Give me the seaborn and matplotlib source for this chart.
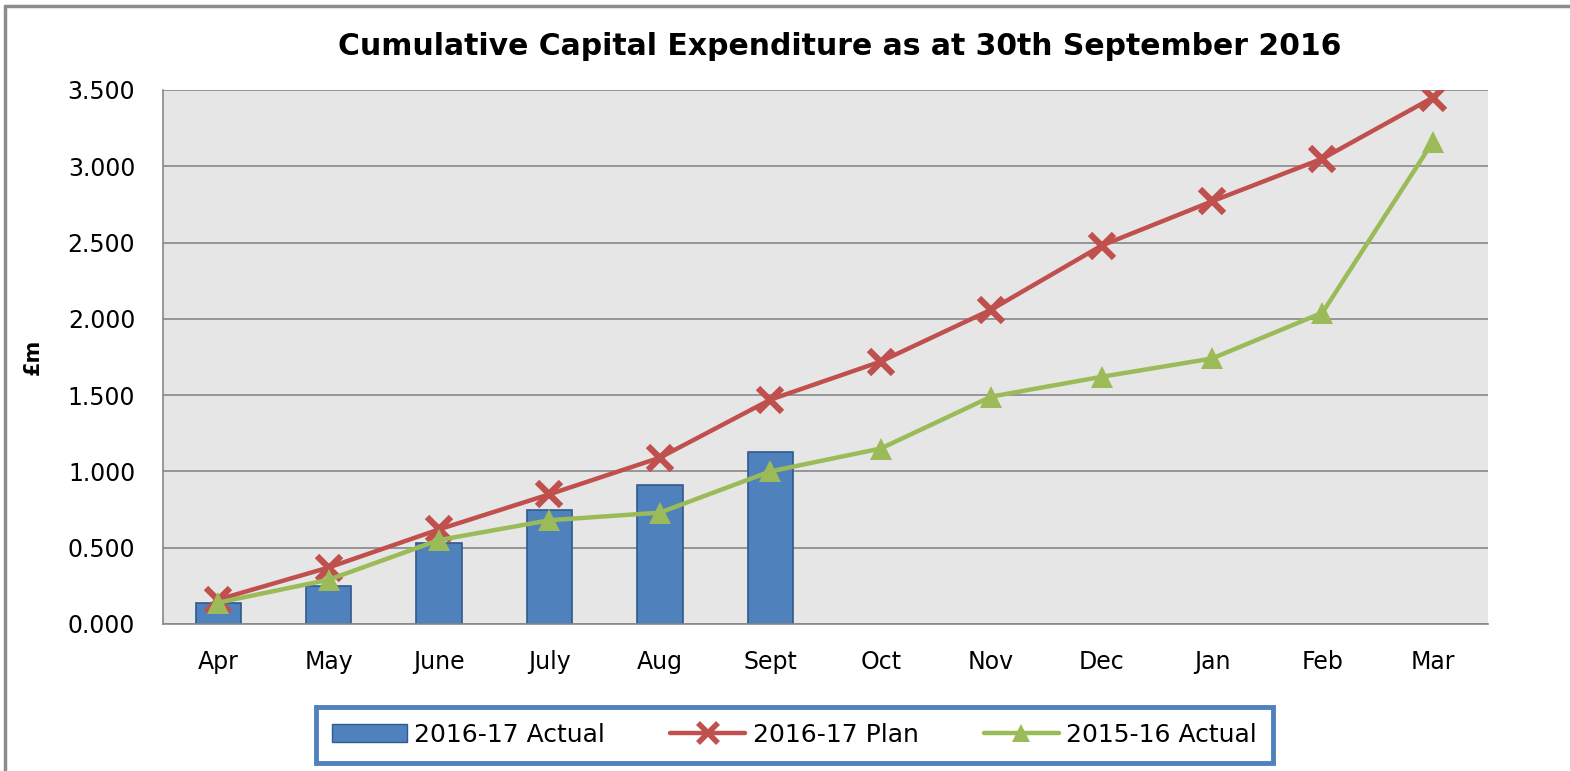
import numpy as np
import pandas as pd
import matplotlib
matplotlib.use("Agg")
import matplotlib.pyplot as plt
import seaborn as sns
from matplotlib.lines import Line2D
from matplotlib.patches import Patch

# data (£m, cumulative)
months = ["Apr", "May", "June", "July", "Aug", "Sept",
          "Oct", "Nov", "Dec", "Jan", "Feb", "Mar"]
actual_1617 = [0.14, 0.25, 0.53, 0.75, 0.91, 1.13,
               np.nan, np.nan, np.nan, np.nan, np.nan, np.nan]
plan_1617 = [0.16, 0.37, 0.62, 0.85, 1.09, 1.47,
             1.72, 2.06, 2.48, 2.77, 3.05, 3.45]
actual_1516 = [0.14, 0.29, 0.55, 0.68, 0.73, 1.00,
               1.15, 1.49, 1.62, 1.74, 2.04, 3.16]
series_names = ["2016-17 Actual", "2016-17 Plan", "2015-16 Actual"]
yticks = [0.0, 0.5, 1.0, 1.5, 2.0, 2.5, 3.0, 3.5]

df = pd.DataFrame({"month": months, "actual": actual_1617,
                   "plan": plan_1617, "prev": actual_1516})

BLUE = "#4F81BD"
RED = "#C0504D"
GREEN = "#9BBB59"
GRID = "#888888"

sns.set_style("white")
plt.rcParams["font.family"] = ["DejaVu Sans"]
plt.rcParams["text.color"] = "black"
plt.rcParams["xtick.color"] = "black"
plt.rcParams["ytick.color"] = "black"
plt.rcParams["axes.labelcolor"] = "black"

fig = plt.figure(figsize=(15.7, 7.71), dpi=100)
ax = fig.add_axes([0.1038, 0.1907, 0.844, 0.6926])
ax.set_facecolor("#E6E6E6")

sns.barplot(data=df, x="month", y="actual", order=months, ax=ax,
            color=BLUE, width=0.41, edgecolor="#2F5A8E", linewidth=1.2,
            saturation=1, zorder=2)
sns.pointplot(data=df, x="month", y="plan", order=months, ax=ax,
              color=RED, marker="x", markersize=17, markeredgewidth=4.5,
              linewidth=3.2, errorbar=None, zorder=3)
sns.pointplot(data=df, x="month", y="prev", order=months, ax=ax,
              color=GREEN, marker="^", markersize=16, markeredgewidth=0,
              linewidth=3.2, errorbar=None, zorder=4)

ax.set_xlim(-0.5, len(months) - 0.5)
ax.set_ylim(0, 3.5)
ax.set_yticks(yticks)
ax.set_yticklabels([f"{v:.3f}" for v in yticks])
ax.yaxis.grid(True, color=GRID, linewidth=1.2, zorder=1)
ax.set_axisbelow(True)
ax.tick_params(axis="y", length=0, pad=20, labelsize=17)
ax.tick_params(axis="x", length=0, pad=19, labelsize=17)
ax.set_xlabel("")
ax.set_ylabel("£m", fontsize=15, fontweight="bold", labelpad=18)
for side in ["top", "right"]:
    ax.spines[side].set_visible(False)
for side in ["left", "bottom"]:
    ax.spines[side].set_color(GRID)
    ax.spines[side].set_linewidth(1.2)

fig.suptitle("Cumulative Capital Expenditure as at 30th September 2016",
             x=0.535, y=0.958, fontsize=21.5, fontweight="bold")

handles = [
    Patch(facecolor=BLUE, edgecolor="#2F5A8E"),
    Line2D([], [], color=RED, marker="x", markersize=14,
           markeredgewidth=4, linewidth=3.2),
    Line2D([], [], color=GREEN, marker="^", markersize=13,
           markeredgewidth=0, linewidth=3.2),
]
leg = fig.legend(handles, series_names, loc="center",
                 bbox_to_anchor=(0.506, 0.047), ncol=3, fontsize=18,
                 frameon=True, fancybox=False, framealpha=1,
                 handlelength=3.0, columnspacing=2.6, borderpad=0.65,
                 handletextpad=0.3)
leg.get_frame().set_edgecolor(BLUE)
leg.get_frame().set_linewidth(3.5)

# outer chart border (left and top only, as in the source crop)
fig.add_artist(Line2D([0.0035, 0.0035], [0, 0.9925], color="#8C8C8C",
                      linewidth=2.5, transform=fig.transFigure))
fig.add_artist(Line2D([0.0035, 1], [0.9925, 0.9925], color="#8C8C8C",
                      linewidth=2.5, transform=fig.transFigure))

fig.savefig("out.png", dpi=100)
